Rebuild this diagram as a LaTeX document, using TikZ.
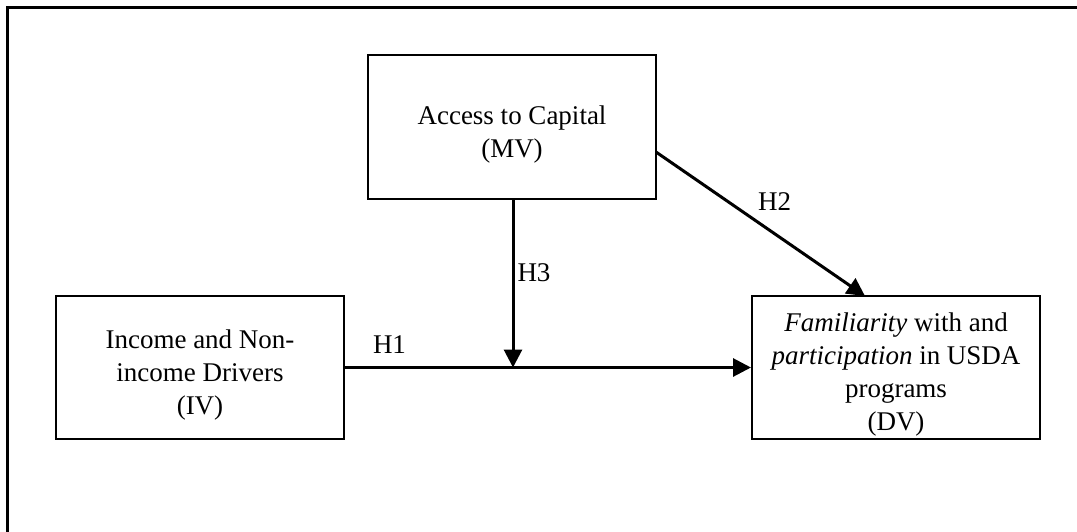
\documentclass[tikz,border=0pt]{standalone}
\usepackage{fontspec}
\setmainfont{Liberation Serif}
\usetikzlibrary{arrows.meta}
\newcommand{\topstrut}{\rule{0pt}{33pt}}
\begin{document}
\begin{tikzpicture}[x=1pt,y=-1pt,
  box/.style={draw,line width=2pt,inner sep=0pt,align=center,
    font=\fontsize{27}{33}\selectfont},
  conn/.style={line width=3pt,-{Triangle[length=18pt,width=18pt]}},
  lab/.style={font=\fontsize{27}{33}\selectfont,inner sep=0pt}]
\useasboundingbox (0,0) rectangle (1077,531);
% outer frame (only top and left edges visible)
\draw[line width=3pt] (1090,7) -- (7,7) -- (7,545);
\node[box,minimum width=288pt,minimum height=144pt] (mv) at (512,127) {\topstrut Access to Capital\\(MV)};
\node[box,minimum width=288pt,minimum height=143pt] (iv) at (200,367.5) {\topstrut Income and Non-\\income Drivers\\(IV)};
\node[box,minimum width=288pt,minimum height=143pt] (dv) at (896,367.5) {\topstrut\textit{Familiarity} with and\\\textit{participation} in USDA\\programs\\(DV)};
\coordinate (j) at (513,367.5);
\coordinate (mvs) at (513,199);
\coordinate (mve) at (656,152);
\coordinate (dvn) at (865,296);
\draw[conn] (iv.east) -- (dv.west);
\draw[conn] (mvs) -- (j);
\draw[conn] (mve) -- (dvn);
\node[lab] (h1) at (389.5,345) {H1};
\node[lab] (h3) at (534,273) {H3};
\node[lab] (h2) at (774.5,202) {H2};
\end{tikzpicture}
\end{document}
